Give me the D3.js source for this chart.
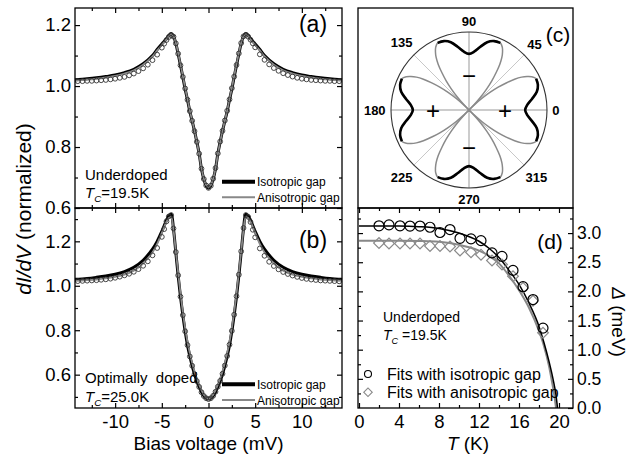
<!DOCTYPE html>
<html>
<head>
<meta charset="utf-8">
<script src="https://cdnjs.cloudflare.com/ajax/libs/d3/7.8.5/d3.min.js"></script>
<style>
  body { margin: 0; background: #fff; }
  svg { font-family: "Liberation Sans", Arial, sans-serif; }
</style>
</head>
<body>
<script>
// ---- tunneling spectra (a) underdoped, (b) optimally doped ----
var vData = [-14, -13.5, -13, -12.5, -12, -11.5, -11, -10.5, -10, -9.5, -9, -8.5, -8, -7.5, -7, -6.5, -6, -5.5, -5,
  -4.75, -4.5, -4.25, -4, -3.75, -3.5, -3.25, -3, -2.75, -2.5, -2.25, -2, -1.75, -1.5, -1.25, -1, -0.75, -0.5, -0.25,
  0, 0.25, 0.5, 0.75, 1, 1.25, 1.5, 1.75, 2, 2.25, 2.5, 2.75, 3, 3.25, 3.5, 3.75, 4, 4.25, 4.5, 4.75,
  5, 5.5, 6, 6.5, 7, 7.5, 8, 8.5, 9, 9.5, 10, 10.5, 11, 11.5, 12, 12.5, 13, 13.5, 14];

var dIdVa = [1.016, 1.016, 1.017, 1.017, 1.018, 1.019, 1.020, 1.022, 1.024, 1.027, 1.030, 1.035, 1.041, 1.049, 1.058, 1.070, 1.085, 1.103, 1.126,
  1.139, 1.151, 1.161, 1.167, 1.162, 1.140, 1.106, 1.068, 1.030, 0.992, 0.955, 0.918, 0.886, 0.852, 0.817, 0.778, 0.729, 0.695, 0.674,
  0.666, 0.673, 0.696, 0.731, 0.779, 0.818, 0.853, 0.887, 0.919, 0.956, 0.993, 1.031, 1.069, 1.107, 1.141, 1.163, 1.168, 1.162, 1.152, 1.140,
  1.127, 1.104, 1.086, 1.071, 1.059, 1.050, 1.042, 1.036, 1.031, 1.027, 1.024, 1.022, 1.020, 1.019, 1.018, 1.017, 1.017, 1.016, 1.016];

var dIdVb = [1.021, 1.022, 1.023, 1.024, 1.025, 1.027, 1.029, 1.032, 1.036, 1.041, 1.047, 1.054, 1.063, 1.075, 1.090, 1.110, 1.137, 1.170, 1.220,
  1.255, 1.290, 1.312, 1.318, 1.258, 1.152, 1.047, 0.951, 0.868, 0.795, 0.733, 0.682, 0.640, 0.602, 0.571, 0.545, 0.521, 0.504, 0.494,
  0.490, 0.494, 0.505, 0.523, 0.546, 0.572, 0.604, 0.641, 0.684, 0.735, 0.797, 0.870, 0.953, 1.050, 1.155, 1.260, 1.318, 1.310, 1.287, 1.252,
  1.218, 1.168, 1.135, 1.108, 1.089, 1.074, 1.062, 1.053, 1.046, 1.040, 1.035, 1.031, 1.028, 1.026, 1.024, 1.023, 1.022, 1.021, 1.020];

var vFit = [-14.3, -13, -12, -11, -10, -9, -8, -7, -6, -5.5, -5, -4.5, -4.25, -4, -3.75, -3.5, -3.25, -3, -2.75, -2.5, -2.25, -2, -1.75, -1.5, -1.25, -1, -0.75, -0.5, -0.25,
  0, 0.25, 0.5, 0.75, 1, 1.25, 1.5, 1.75, 2, 2.25, 2.5, 2.75, 3, 3.25, 3.5, 3.75, 4, 4.25, 4.5, 5, 5.5, 6, 7, 8, 9, 10, 11, 12, 13, 14.3];

var isoA = [1.021, 1.024, 1.027, 1.031, 1.036, 1.044, 1.055, 1.073, 1.100, 1.120, 1.138, 1.155, 1.166, 1.172, 1.163, 1.140, 1.105, 1.068, 1.030, 0.990, 0.955, 0.917, 0.885, 0.853, 0.817, 0.778, 0.728, 0.695, 0.673,
  0.665, 0.673, 0.695, 0.728, 0.778, 0.817, 0.853, 0.885, 0.917, 0.955, 0.990, 1.030, 1.068, 1.105, 1.140, 1.163, 1.172, 1.166, 1.155, 1.138, 1.120, 1.100, 1.073, 1.055, 1.044, 1.036, 1.031, 1.027, 1.024, 1.021];

var anisoA = [1.018, 1.021, 1.024, 1.028, 1.033, 1.041, 1.052, 1.070, 1.097, 1.117, 1.135, 1.153, 1.164, 1.170, 1.163, 1.142, 1.108, 1.071, 1.033, 0.993, 0.957, 0.919, 0.886, 0.853, 0.817, 0.777, 0.729, 0.696, 0.675,
  0.667, 0.675, 0.696, 0.729, 0.777, 0.817, 0.853, 0.886, 0.919, 0.957, 0.993, 1.033, 1.071, 1.108, 1.142, 1.163, 1.170, 1.164, 1.153, 1.135, 1.117, 1.097, 1.070, 1.052, 1.041, 1.033, 1.028, 1.024, 1.021, 1.018];

var isoB = [1.029, 1.033, 1.038, 1.044, 1.052, 1.064, 1.083, 1.115, 1.165, 1.200, 1.245, 1.295, 1.315, 1.322, 1.255, 1.150, 1.045, 0.950, 0.868, 0.795, 0.733, 0.683, 0.640, 0.603, 0.571, 0.545, 0.522, 0.505, 0.494,
  0.490, 0.494, 0.505, 0.522, 0.545, 0.571, 0.603, 0.640, 0.683, 0.733, 0.795, 0.868, 0.950, 1.045, 1.150, 1.255, 1.322, 1.315, 1.295, 1.245, 1.200, 1.165, 1.115, 1.083, 1.064, 1.052, 1.044, 1.038, 1.033, 1.029];

var anisoB = [1.022, 1.025, 1.028, 1.033, 1.040, 1.050, 1.068, 1.100, 1.150, 1.188, 1.238, 1.288, 1.305, 1.308, 1.250, 1.155, 1.058, 0.965, 0.882, 0.810, 0.748, 0.697, 0.653, 0.615, 0.583, 0.555, 0.530, 0.510, 0.496,
  0.491, 0.496, 0.510, 0.530, 0.555, 0.583, 0.615, 0.653, 0.697, 0.748, 0.810, 0.882, 0.965, 1.058, 1.155, 1.250, 1.308, 1.305, 1.288, 1.238, 1.188, 1.150, 1.100, 1.068, 1.050, 1.040, 1.033, 1.028, 1.025, 1.022];

// ---- gap shape (c), radius relative to the outer circle ----
var polarPhi = [0, 5, 10, 15, 20, 25, 28, 30, 32, 34, 36, 38, 40, 42, 44, 45];
var lobeGray = [0.72, 0.75, 0.82, 0.90, 0.94, 0.95, 0.91, 0.86, 0.795, 0.705, 0.59, 0.475, 0.35, 0.22, 0.08, 0];
var tipPhi = [0, 5, 10, 15, 20, 25];
var tipBlack = [0.72, 0.75, 0.82, 0.90, 0.94, 0.95];
var lobeAxes = [0, 90, 180, 270];
var polarLabels = [0, 45, 90, 135, 180, 225, 270, 315];

// ---- gap vs temperature (d) ----
var tempK = [2.0, 3.0, 4.1, 5.1, 6.1, 7.1, 8.1, 9.1, 10.1, 11.2, 12.2, 13.3, 14.3, 15.4, 16.4, 17.4, 18.4];
var gapIso = [3.125, 3.14, 3.125, 3.12, 3.12, 3.10, 3.01, 3.06, 2.91, 2.90, 2.87, 2.66, 2.60, 2.36, 2.08, 1.86, 1.37];
var gapAniso = [2.83, 2.82, 2.82, 2.82, 2.82, 2.78, 2.78, 2.77, 2.70, 2.67, 2.63, 2.53, 2.46, 2.26, 2.06, 1.84, 1.29];
var tFitIso = [0, 2, 4, 6, 8, 10, 12, 13, 14, 15, 16, 17, 18, 18.5, 19, 19.4, 19.7, 19.85];
var fitIso = [3.12, 3.12, 3.12, 3.11, 3.08, 3.00, 2.86, 2.74, 2.58, 2.36, 2.12, 1.80, 1.40, 1.12, 0.80, 0.50, 0.22, 0];
var tFitAniso = [0, 2, 4, 6, 8, 10, 12, 13, 14, 15, 16, 17, 18, 18.5, 19, 19.3, 19.55, 19.7];
var fitAniso = [2.87, 2.87, 2.87, 2.865, 2.85, 2.80, 2.70, 2.61, 2.48, 2.27, 2.02, 1.72, 1.32, 1.06, 0.72, 0.45, 0.20, 0];

var svg = d3.select("body").append("svg")
  .attr("width", 631)
  .attr("height", 460);

var left = 75, right = 342, left2 = 358, right2 = 573;
var top0 = 8, mid = 208, bottom = 408;

var xBias = d3.scaleLinear().domain([-14.3, 14.3]).range([left, right]);
var yA = d3.scaleLinear().domain([0.6, 1.256]).range([mid, top0]);
var yB = d3.scaleLinear().domain([0.45, 1.35]).range([bottom, mid]);
var xT = d3.scaleLinear().domain([-0.1, 21.4]).range([left2, right2]);
var yGap = d3.scaleLinear().domain([0, 3.43]).range([bottom, mid]);

function axis(gen, scale, vals, len, tx, ty, fmt, fs, pad) {
  var a = gen(scale).tickValues(vals).tickSizeInner(-len).tickSizeOuter(0).tickPadding(pad || 4)
    .tickFormat(fmt || (() => ""));
  var g = svg.append("g").attr("transform", `translate(${tx},${ty})`).call(a);
  g.select(".domain").remove();
  g.attr("font-family", null).attr("font-size", null);
  g.selectAll("line").attr("stroke", "#000").attr("stroke-width", 1.2);
  g.selectAll("text").attr("fill", "#000").style("font-size", (fs || 18) + "px");
  return g;
}

var vMajor = [-10, -5, 0, 5, 10], vMinor = [-12.5, -7.5, -2.5, 2.5, 7.5, 12.5];
var fmtV = d => String(d), fmt1 = d3.format(".1f");

// (a) axes
axis(d3.axisTop, xBias, vMajor, 5, 0, top0);
axis(d3.axisTop, xBias, vMinor, 3, 0, top0);
axis(d3.axisBottom, xBias, vMajor, 5, 0, mid);
axis(d3.axisBottom, xBias, vMinor, 3, 0, mid);
axis(d3.axisLeft, yA, [0.6, 0.8, 1.0, 1.2], 5, left, 0, fmt1, 18.5);
axis(d3.axisLeft, yA, [0.7, 0.9, 1.1], 3, left, 0);
axis(d3.axisRight, yA, [0.6, 0.8, 1.0, 1.2], 5, right, 0);
axis(d3.axisRight, yA, [0.7, 0.9, 1.1], 3, right, 0);

// (b) axes
axis(d3.axisTop, xBias, vMajor, 5, 0, mid);
axis(d3.axisTop, xBias, vMinor, 3, 0, mid);
axis(d3.axisBottom, xBias, vMajor, 5, 0, bottom, fmtV, 18.5, 7);
axis(d3.axisBottom, xBias, vMinor, 3, 0, bottom);
axis(d3.axisLeft, yB, [0.6, 0.8, 1.0, 1.2], 5, left, 0, fmt1, 18.5);
axis(d3.axisLeft, yB, [0.5, 0.7, 0.9, 1.1, 1.3], 3, left, 0);
axis(d3.axisRight, yB, [0.6, 0.8, 1.0, 1.2], 5, right, 0);
axis(d3.axisRight, yB, [0.5, 0.7, 0.9, 1.1, 1.3], 3, right, 0);

// (d) axes
var tMajor = [0, 4, 8, 12, 16, 20], tMinor = [2, 6, 10, 14, 18];
var gMajor = [0.5, 1.0, 1.5, 2.0, 2.5, 3.0], gMinor = [0.25, 0.75, 1.25, 1.75, 2.25, 2.75, 3.25];
axis(d3.axisTop, xT, tMajor, 5, 0, mid);
axis(d3.axisTop, xT, tMinor, 3, 0, mid);
axis(d3.axisBottom, xT, tMajor, 5, 0, bottom, fmtV, 18.5, 7);
axis(d3.axisBottom, xT, tMinor, 3, 0, bottom);
axis(d3.axisLeft, yGap, gMajor, 5, left2, 0);
axis(d3.axisLeft, yGap, gMinor, 3, left2, 0);
axis(d3.axisRight, yGap, [0].concat(gMajor), 5, right2, 0, fmt1, 17.5, 4);
axis(d3.axisRight, yGap, gMinor, 3, right2, 0);

// spectra
function spectrum(y, vals, color, w) {
  var line = d3.line().x((d, i) => xBias(vFit[i])).y(d => y(d)).curve(d3.curveCatmullRom);
  svg.append("path").datum(vals).attr("d", line)
    .attr("fill", "none").attr("stroke", color).attr("stroke-width", w);
}
function points(y, vals) {
  svg.append("g").selectAll("circle").data(vals).enter().append("circle")
    .attr("cx", (d, i) => xBias(vData[i]))
    .attr("cy", d => y(d))
    .attr("r", 2.4)
    .attr("fill", "none")
    .attr("stroke", "#333")
    .attr("stroke-width", 0.9);
}
spectrum(yA, isoA, "#000", 3);
spectrum(yA, anisoA, "#888", 1.8);
points(yA, dIdVa);
spectrum(yB, isoB, "#000", 3);
spectrum(yB, anisoB, "#888", 1.8);
points(yB, dIdVb);

// (c) polar gap shape
var cx = 469, cy = 110, R = 78;
var rS = d3.scaleLinear().domain([0, 1]).range([0, R]);
var pc = svg.append("g").attr("transform", `translate(${cx},${cy})`);
[45, 135, 225, 315].forEach(function(a) {
  var t = a * Math.PI / 180;
  pc.append("line").attr("x1", 0).attr("y1", 0)
    .attr("x2", rS(1) * Math.cos(t)).attr("y2", -rS(1) * Math.sin(t))
    .attr("stroke", "#c8c8c8").attr("stroke-width", 1);
});
pc.append("line").attr("x1", -R).attr("x2", R).attr("y1", 0).attr("y2", 0).attr("stroke", "#999").attr("stroke-width", 1);
pc.append("line").attr("y1", -R).attr("y2", R).attr("x1", 0).attr("x2", 0).attr("stroke", "#999").attr("stroke-width", 1);
pc.append("circle").attr("r", R).attr("fill", "none").attr("stroke", "#333").attr("stroke-width", 1.1);

var radial = d3.lineRadial()
  .angle(d => (90 - d.deg) * Math.PI / 180)
  .radius(d => rS(d.r))
  .curve(d3.curveCatmullRom);

function lobe(axisDeg, phis, rs) {
  var pts = [];
  for (var i = phis.length - 1; i > 0; i--) pts.push({deg: axisDeg - phis[i], r: rs[i]});
  for (var j = 0; j < phis.length; j++) pts.push({deg: axisDeg + phis[j], r: rs[j]});
  return pts;
}
lobeAxes.forEach(function(a) {
  pc.append("path").datum(lobe(a, polarPhi, lobeGray)).attr("d", radial)
    .attr("fill", "none").attr("stroke", "#8a8a8a").attr("stroke-width", 1.5);
});
lobeAxes.forEach(function(a) {
  pc.append("path").datum(lobe(a, tipPhi, tipBlack)).attr("d", radial)
    .attr("fill", "none").attr("stroke", "#000").attr("stroke-width", 2.6);
});

polarLabels.forEach(function(a) {
  var t = a * Math.PI / 180;
  var w = String(a).length * 7.5;
  var r = R + 5 + 0.5 * Math.abs(Math.cos(t)) * w + 0.5 * Math.abs(Math.sin(t)) * 12;
  pc.append("text")
    .attr("x", r * Math.cos(t)).attr("y", -r * Math.sin(t))
    .attr("text-anchor", "middle").attr("dominant-baseline", "central")
    .style("font-size", "13px").style("font-weight", "bold")
    .text(a);
});
[[-36, 0, "+"], [36, 0, "+"], [0, -35, "\u2212"], [0, 37, "\u2212"]].forEach(function(s) {
  pc.append("text").attr("x", s[0]).attr("y", s[1])
    .attr("text-anchor", "middle").attr("dominant-baseline", "central")
    .style("font-size", "24px").text(s[2]);
});

// (d) gap vs T
var lineIso = d3.line().x((d, i) => xT(tFitIso[i])).y(d => yGap(d)).curve(d3.curveMonotoneX);
var lineAniso = d3.line().x((d, i) => xT(tFitAniso[i])).y(d => yGap(d)).curve(d3.curveMonotoneX);
svg.append("path").datum(fitAniso).attr("d", lineAniso)
  .attr("fill", "none").attr("stroke", "#888").attr("stroke-width", 2);
svg.append("path").datum(fitIso).attr("d", lineIso)
  .attr("fill", "none").attr("stroke", "#000").attr("stroke-width", 1.5);

var diamond = d3.symbol().type(d3.symbolSquare).size(58);
svg.append("g").selectAll("path").data(gapAniso).enter().append("path")
  .attr("d", diamond)
  .attr("transform", (d, i) => `translate(${xT(tempK[i])},${yGap(d)}) rotate(45)`)
  .attr("fill", "none").attr("stroke", "#8a8a8a").attr("stroke-width", 1.2);
svg.append("g").selectAll("circle").data(gapIso).enter().append("circle")
  .attr("cx", (d, i) => xT(tempK[i]))
  .attr("cy", d => yGap(d))
  .attr("r", 5)
  .attr("fill", "none").attr("stroke", "#000").attr("stroke-width", 1.2);

// frames
[[left, top0, right - left, mid - top0], [left, mid, right - left, bottom - mid],
 [left2, top0, right2 - left2, mid - top0], [left2, mid, right2 - left2, bottom - mid]].forEach(function(r) {
  svg.append("rect").attr("x", r[0]).attr("y", r[1]).attr("width", r[2]).attr("height", r[3])
    .attr("fill", "none").attr("stroke", "#000").attr("stroke-width", 1.3);
});

// texts
function label(x, y, txt, fs, anchor) {
  return svg.append("text").attr("x", x).attr("y", y)
    .attr("text-anchor", anchor || "start").style("font-size", fs + "px").text(txt);
}
function tc(x, y, val, fs) {
  var t = svg.append("text").attr("x", x).attr("y", y).style("font-size", fs + "px");
  t.append("tspan").style("font-style", "italic").text("T");
  t.append("tspan").style("font-style", "italic").style("font-size", (fs * 0.65) + "px").attr("dy", 4).text("C");
  t.append("tspan").attr("dy", -4).text(val);
}
label(313, 32, "(a)", 23, "middle");
label(313, 248, "(b)", 23, "middle");
label(558, 42, "(c)", 21, "middle");
label(550, 249, "(d)", 21, "middle");

label(85, 180, "Underdoped", 15);
tc(85, 198, "=19.5K", 15);
label(85, 383, "Optimally\u00a0\u00a0doped", 15);
tc(85, 402, "=25.0K", 15);

function legendA(yBlack, yGray) {
  svg.append("line").attr("x1", 222).attr("x2", 255).attr("y1", yBlack).attr("y2", yBlack)
    .attr("stroke", "#000").attr("stroke-width", 4);
  svg.append("line").attr("x1", 222).attr("x2", 255).attr("y1", yGray).attr("y2", yGray)
    .attr("stroke", "#888").attr("stroke-width", 2);
  label(257, yBlack + 4.5, "Isotropic gap", 12);
  label(257, yGray + 4.5, "Anisotropic gap", 12);
}
legendA(181.7, 197.3);
legendA(384.3, 400);

label(383, 322, "Underdoped", 14);
tc(383, 339.5, " =19.5K", 14);
svg.append("circle").attr("cx", 368).attr("cy", 374).attr("r", 3.5)
  .attr("fill", "none").attr("stroke", "#000").attr("stroke-width", 1.1);
svg.append("path").attr("d", d3.symbol().type(d3.symbolSquare).size(36))
  .attr("transform", "translate(368,392.3) rotate(45)")
  .attr("fill", "none").attr("stroke", "#8a8a8a").attr("stroke-width", 1.1);
label(387, 380, "Fits with isotropic gap", 16);
label(387, 398, "Fits with anisotropic gap", 16);

// axis titles
label(208.5, 450, "Bias voltage (mV)", 19, "middle");
var tt = svg.append("text").attr("x", 468).attr("y", 450).attr("text-anchor", "middle").style("font-size", "19px");
tt.append("tspan").style("font-style", "italic").text("T");
tt.append("tspan").text(" (K)");

var yl = svg.append("text").attr("transform", "translate(31,209) rotate(-90)")
  .attr("text-anchor", "middle").style("font-size", "21px");
yl.append("tspan").style("font-style", "italic").text("dI/dV");
yl.append("tspan").text(" (normalized)");

var gl = svg.append("text").attr("transform", "translate(612,322) rotate(90)")
  .attr("text-anchor", "middle").style("font-size", "19px");
gl.append("tspan").style("font-style", "italic").text("\u0394");
gl.append("tspan").text(" (meV)");
</script>
</body>
</html>
